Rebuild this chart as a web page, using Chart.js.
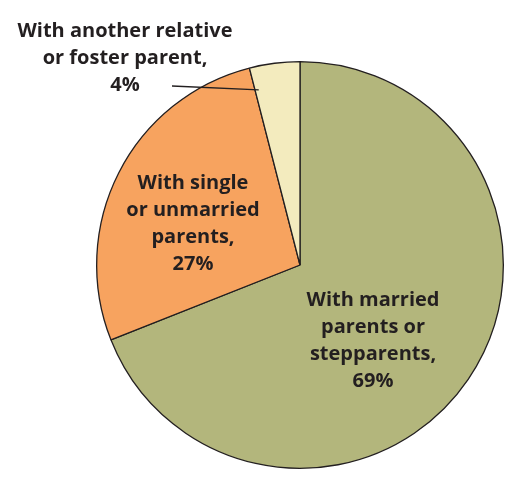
<!DOCTYPE html>
<html>
<head>
<meta charset="utf-8">
<script src="https://cdn.jsdelivr.net/npm/chart.js@4.4.0/dist/chart.umd.min.js"></script>
<style>
  html, body { margin: 0; padding: 0; background: #fff; }
  #wrap { width: 506px; height: 477px; }
</style>
</head>
<body>
<div id="wrap"><canvas id="pieChart"></canvas></div>
<script>
// living arrangements, clockwise from 12 o'clock
var categories = ["With married parents or stepparents", "With single or unmarried parents", "With another relative or foster parent"];
var shares = [69, 27, 4];
var labelLines = [
  ["With married", "parents or", "stepparents,", "69%"],
  ["With single", "or unmarried", "parents,", "27%"],
  ["With another relative", "or foster parent,", "4%"]
];
var sliceColors = ["#b3b67c", "#f7a35f", "#f3ebbe"];

// where each label block is centred (first line), px
var labelSpots = [[373, 300], [193, 183], [125, 31]];
var lineHeight = 27;

var labelPlugin = {
  id: 'sliceLabels',
  afterDatasetsDraw(chart) {
    var ctx = chart.ctx;
    var arcs = chart.getDatasetMeta(0).data;
    ctx.save();

    // leader line from the small slice label into its slice
    var a = arcs[2];
    var ang = a.startAngle + 0.02;
    var r = a.outerRadius * 0.885;
    ctx.beginPath();
    ctx.moveTo(172, 86);
    ctx.lineTo(a.x + Math.cos(ang) * r, a.y + Math.sin(ang) * r);
    ctx.strokeStyle = "#231f20";
    ctx.lineWidth = 1.3;
    ctx.stroke();

    ctx.fillStyle = "#231f20";
    ctx.font = "bold 20px 'Open Sans'";
    ctx.textAlign = "center";
    ctx.textBaseline = "middle";
    labelLines.forEach(function (lines, i) {
      lines.forEach(function (txt, j) {
        ctx.fillText(txt, labelSpots[i][0], labelSpots[i][1] + j * lineHeight);
      });
    });
    ctx.restore();
  }
};

var ctx = document.getElementById("pieChart").getContext('2d');
var pieChart = new Chart(ctx, {
  type: 'pie',
  data: {
    labels: categories,
    datasets: [{
      data: shares,
      backgroundColor: sliceColors,
      borderColor: "#231f20",
      borderWidth: 1.3
    }]
  },
  options: {
    responsive: true,
    maintainAspectRatio: false,
    animation: false,
    layout: { padding: { left: 96, right: 2, top: 61, bottom: 8 } },
    plugins: {
      legend: { display: false },
      tooltip: { enabled: false }
    }
  },
  plugins: [labelPlugin]
});
</script>
</body>
</html>
